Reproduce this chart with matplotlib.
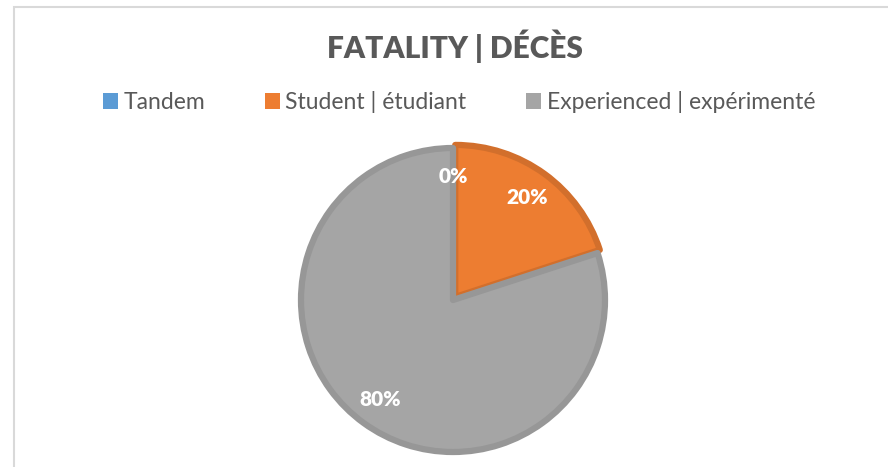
import matplotlib.pyplot as plt
from matplotlib.patches import Rectangle, Patch

plt.rcParams['font.family'] = ['Lato', 'DejaVu Sans']

# data
categories = ['Tandem', 'Student | étudiant', 'Experienced | expérimenté']
shares = [0, 20, 80]
colors = ['#5b9bd5', '#ed7d31', '#a5a5a5']
edge_colors = ['#5b9bd5', '#d26f2c', '#979797']
title = 'FATALITY | DÉCÈS'

W, H = 888, 467
fig = plt.figure(figsize=(W / 100, H / 100), dpi=100)

# chart frame
fig.patches.append(Rectangle((13.5 / W, -0.05), 1.0, 1 - 6.5 / H + 0.05,
                             transform=fig.transFigure, fill=False,
                             edgecolor='#d9d9d9', linewidth=1.5))

# pie axes: centre (453, 300) px, radius 152 px
cx, cy, r = 453, 300, 152
box = 160
ax = fig.add_axes([(cx - box) / W, (H - cy - box) / H, 2 * box / W, 2 * box / H])
wedges, texts, autotexts = ax.pie(shares, colors=colors, startangle=90, counterclock=False,
                                  explode=[0, 0.025, 0], autopct='%1.0f%%', pctdistance=0.81,
                                  wedgeprops=dict(linewidth=4.5),
                                  textprops=dict(color='white', fontsize=15, fontweight='heavy'))
for w, ec in zip(wedges, edge_colors):
    w.set_edgecolor(ec)
    w.set_joinstyle('round')
wedges[0].set_linewidth(0)
lim = box / r
ax.set_xlim(-lim, lim)
ax.set_ylim(-lim, lim)
ax.set_aspect('equal')
ax.axis('off')

fig.text(455 / W, 1 - 46 / H, title, ha='center', va='center',
         fontsize=21.5, fontweight='heavy', color='#595959')

handles = [Patch(facecolor=c, edgecolor='none') for c in colors]
fig.legend(handles, categories, loc='center', bbox_to_anchor=(459 / W, 1 - 102 / H),
           ncol=3, frameon=False, fontsize=16.5, labelcolor='#595959',
           handlelength=0.65, handleheight=0.65, handletextpad=0.25, columnspacing=2.6)

fig.savefig('out.png', dpi=100)
